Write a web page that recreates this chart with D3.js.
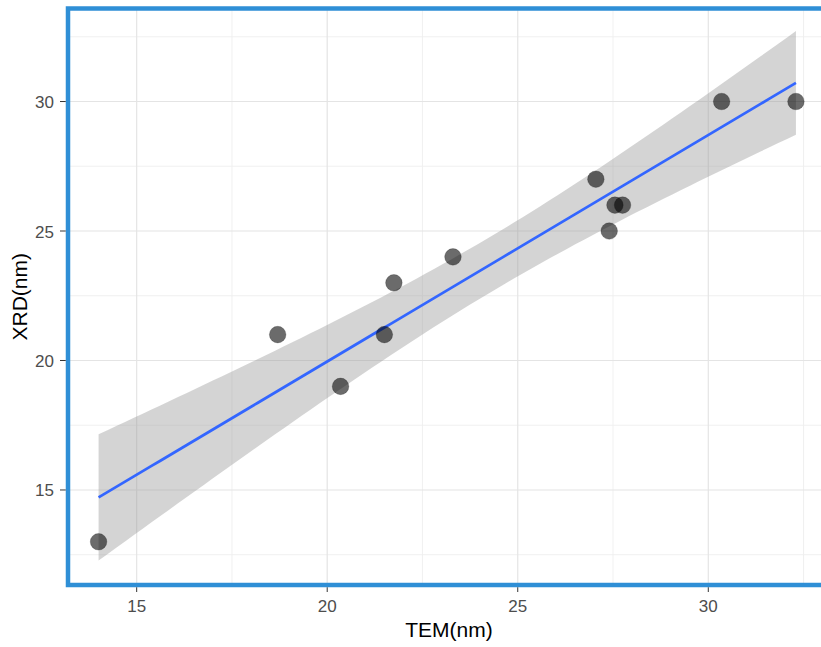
<!DOCTYPE html>
<html>
<head>
<meta charset="utf-8">
<script src="https://cdn.jsdelivr.net/npm/d3@7/dist/d3.min.js"></script>
<style>
  html, body { margin: 0; padding: 0; background: #fff; }
  svg { display: block; font-family: "Liberation Sans", Arial, sans-serif; }
</style>
</head>
<body>
<svg id="chart" width="821" height="647"></svg>
<script>
// Particle size measured by TEM (x) and XRD (y), in nm
const temNm = [14.0, 18.7, 20.35, 21.5, 21.75, 23.3, 27.05, 27.4, 27.55, 27.75, 30.35, 32.3];
const xrdNm = [13, 21, 19, 21, 23, 24, 27, 25, 26, 26, 30, 30];

// Axis limits and ticks
const xLimits = [13.085, 33.215];
const yLimits = [11.35, 33.7];
const xTicks = [15, 20, 25, 30];
const yTicks = [15, 20, 25, 30];
const xMinor = [12.5, 17.5, 22.5, 27.5, 32.5];
const yMinor = [12.5, 17.5, 22.5, 27.5, 32.5];

// Student t quantile used for the confidence band (df = n - 2 = 10)
const tCrit = 2.764;

const svg = d3.select("#chart");

const panel = { left: 68, top: 8.5, bottom: 585, right: 831 };

const x = d3.scaleLinear().domain(xLimits).range([63.7, 830.8]);
const y = d3.scaleLinear().domain(yLimits).range([584.5, 5.7]);

// clip region for the panel contents
svg.append("defs").append("clipPath").attr("id", "panelClip")
  .append("rect")
  .attr("x", panel.left).attr("y", panel.top)
  .attr("width", panel.right - panel.left).attr("height", panel.bottom - panel.top);

const g = svg.append("g").attr("clip-path", "url(#panelClip)");

g.append("rect")
  .attr("x", panel.left).attr("y", panel.top)
  .attr("width", panel.right - panel.left).attr("height", panel.bottom - panel.top)
  .attr("fill", "#fff");

// grid
g.selectAll("line.vminor").data(xMinor).join("line")
  .attr("x1", d => x(d)).attr("x2", d => x(d))
  .attr("y1", panel.top).attr("y2", panel.bottom)
  .attr("stroke", "#eeeeee").attr("stroke-width", 0.9);
g.selectAll("line.hminor").data(yMinor).join("line")
  .attr("y1", d => y(d)).attr("y2", d => y(d))
  .attr("x1", panel.left).attr("x2", panel.right)
  .attr("stroke", "#eeeeee").attr("stroke-width", 0.9);
g.selectAll("line.vmajor").data(xTicks).join("line")
  .attr("x1", d => x(d)).attr("x2", d => x(d))
  .attr("y1", panel.top).attr("y2", panel.bottom)
  .attr("stroke", "#e4e4e4").attr("stroke-width", 1.2);
g.selectAll("line.hmajor").data(yTicks).join("line")
  .attr("y1", d => y(d)).attr("y2", d => y(d))
  .attr("x1", panel.left).attr("x2", panel.right)
  .attr("stroke", "#e4e4e4").attr("stroke-width", 1.2);

// least squares fit with confidence band
const n = temNm.length;
const mx = d3.mean(temNm), my = d3.mean(xrdNm);
let sxx = 0, sxy = 0;
temNm.forEach((v, i) => { sxx += (v - mx) ** 2; sxy += (v - mx) * (xrdNm[i] - my); });
const slope = sxy / sxx;
const intercept = my - slope * mx;
let sse = 0;
temNm.forEach((v, i) => { sse += (xrdNm[i] - (intercept + slope * v)) ** 2; });
const sigma = Math.sqrt(sse / (n - 2));

const [xLo, xHi] = d3.extent(temNm);
const fit = d3.range(80).map(i => {
  const xv = xLo + (xHi - xLo) * i / 79;
  const yv = intercept + slope * xv;
  const half = tCrit * sigma * Math.sqrt(1 / n + (xv - mx) ** 2 / sxx);
  return { x: xv, y: yv, lo: yv - half, hi: yv + half };
});

g.append("path").datum(fit)
  .attr("d", d3.area().x(d => x(d.x)).y0(d => y(d.lo)).y1(d => y(d.hi)))
  .attr("fill", "#999999").attr("fill-opacity", 0.42);

g.append("path").datum(fit)
  .attr("d", d3.line().x(d => x(d.x)).y(d => y(d.y)))
  .attr("fill", "none").attr("stroke", "#3366FF").attr("stroke-width", 2.7);

// points
g.selectAll("circle").data(temNm).join("circle")
  .attr("cx", d => x(d))
  .attr("cy", (d, i) => y(xrdNm[i]))
  .attr("r", 8.3)
  .attr("fill", "#000").attr("fill-opacity", 0.58)
  .attr("stroke", "#000").attr("stroke-opacity", 0.2).attr("stroke-width", 1);

// panel frame
const frameW = 4.5;
svg.append("rect")
  .attr("x", panel.left).attr("y", panel.top)
  .attr("width", panel.right - panel.left + 10).attr("height", panel.bottom - panel.top)
  .attr("fill", "none").attr("stroke", "#2f8fd6").attr("stroke-width", frameW);

// x axis
const xAxis = svg.append("g");
xAxis.selectAll("line").data(xTicks).join("line")
  .attr("x1", d => x(d)).attr("x2", d => x(d))
  .attr("y1", panel.bottom + frameW / 2).attr("y2", panel.bottom + 7)
  .attr("stroke", "#333").attr("stroke-width", 1);
xAxis.selectAll("text").data(xTicks).join("text")
  .attr("x", d => x(d)).attr("y", 612)
  .attr("text-anchor", "middle")
  .attr("font-size", 17).attr("fill", "#4d4d4d")
  .text(d => d);

// y axis
const yAxis = svg.append("g");
yAxis.selectAll("line").data(yTicks).join("line")
  .attr("x1", panel.left - frameW / 2).attr("x2", panel.left - 8)
  .attr("y1", d => y(d)).attr("y2", d => y(d))
  .attr("stroke", "#333").attr("stroke-width", 1);
yAxis.selectAll("text").data(yTicks).join("text")
  .attr("x", 54).attr("y", d => y(d) + 6.5)
  .attr("text-anchor", "end")
  .attr("font-size", 17).attr("fill", "#4d4d4d")
  .text(d => d);

// axis titles
svg.append("text")
  .attr("x", (panel.left + 830) / 2).attr("y", 637)
  .attr("text-anchor", "middle")
  .attr("font-size", 21).attr("fill", "#000")
  .text("TEM(nm)");
svg.append("text")
  .attr("transform", `translate(27, ${(panel.top + panel.bottom) / 2}) rotate(-90)`)
  .attr("text-anchor", "middle")
  .attr("font-size", 21).attr("fill", "#000")
  .text("XRD(nm)");
</script>
</body>
</html>
